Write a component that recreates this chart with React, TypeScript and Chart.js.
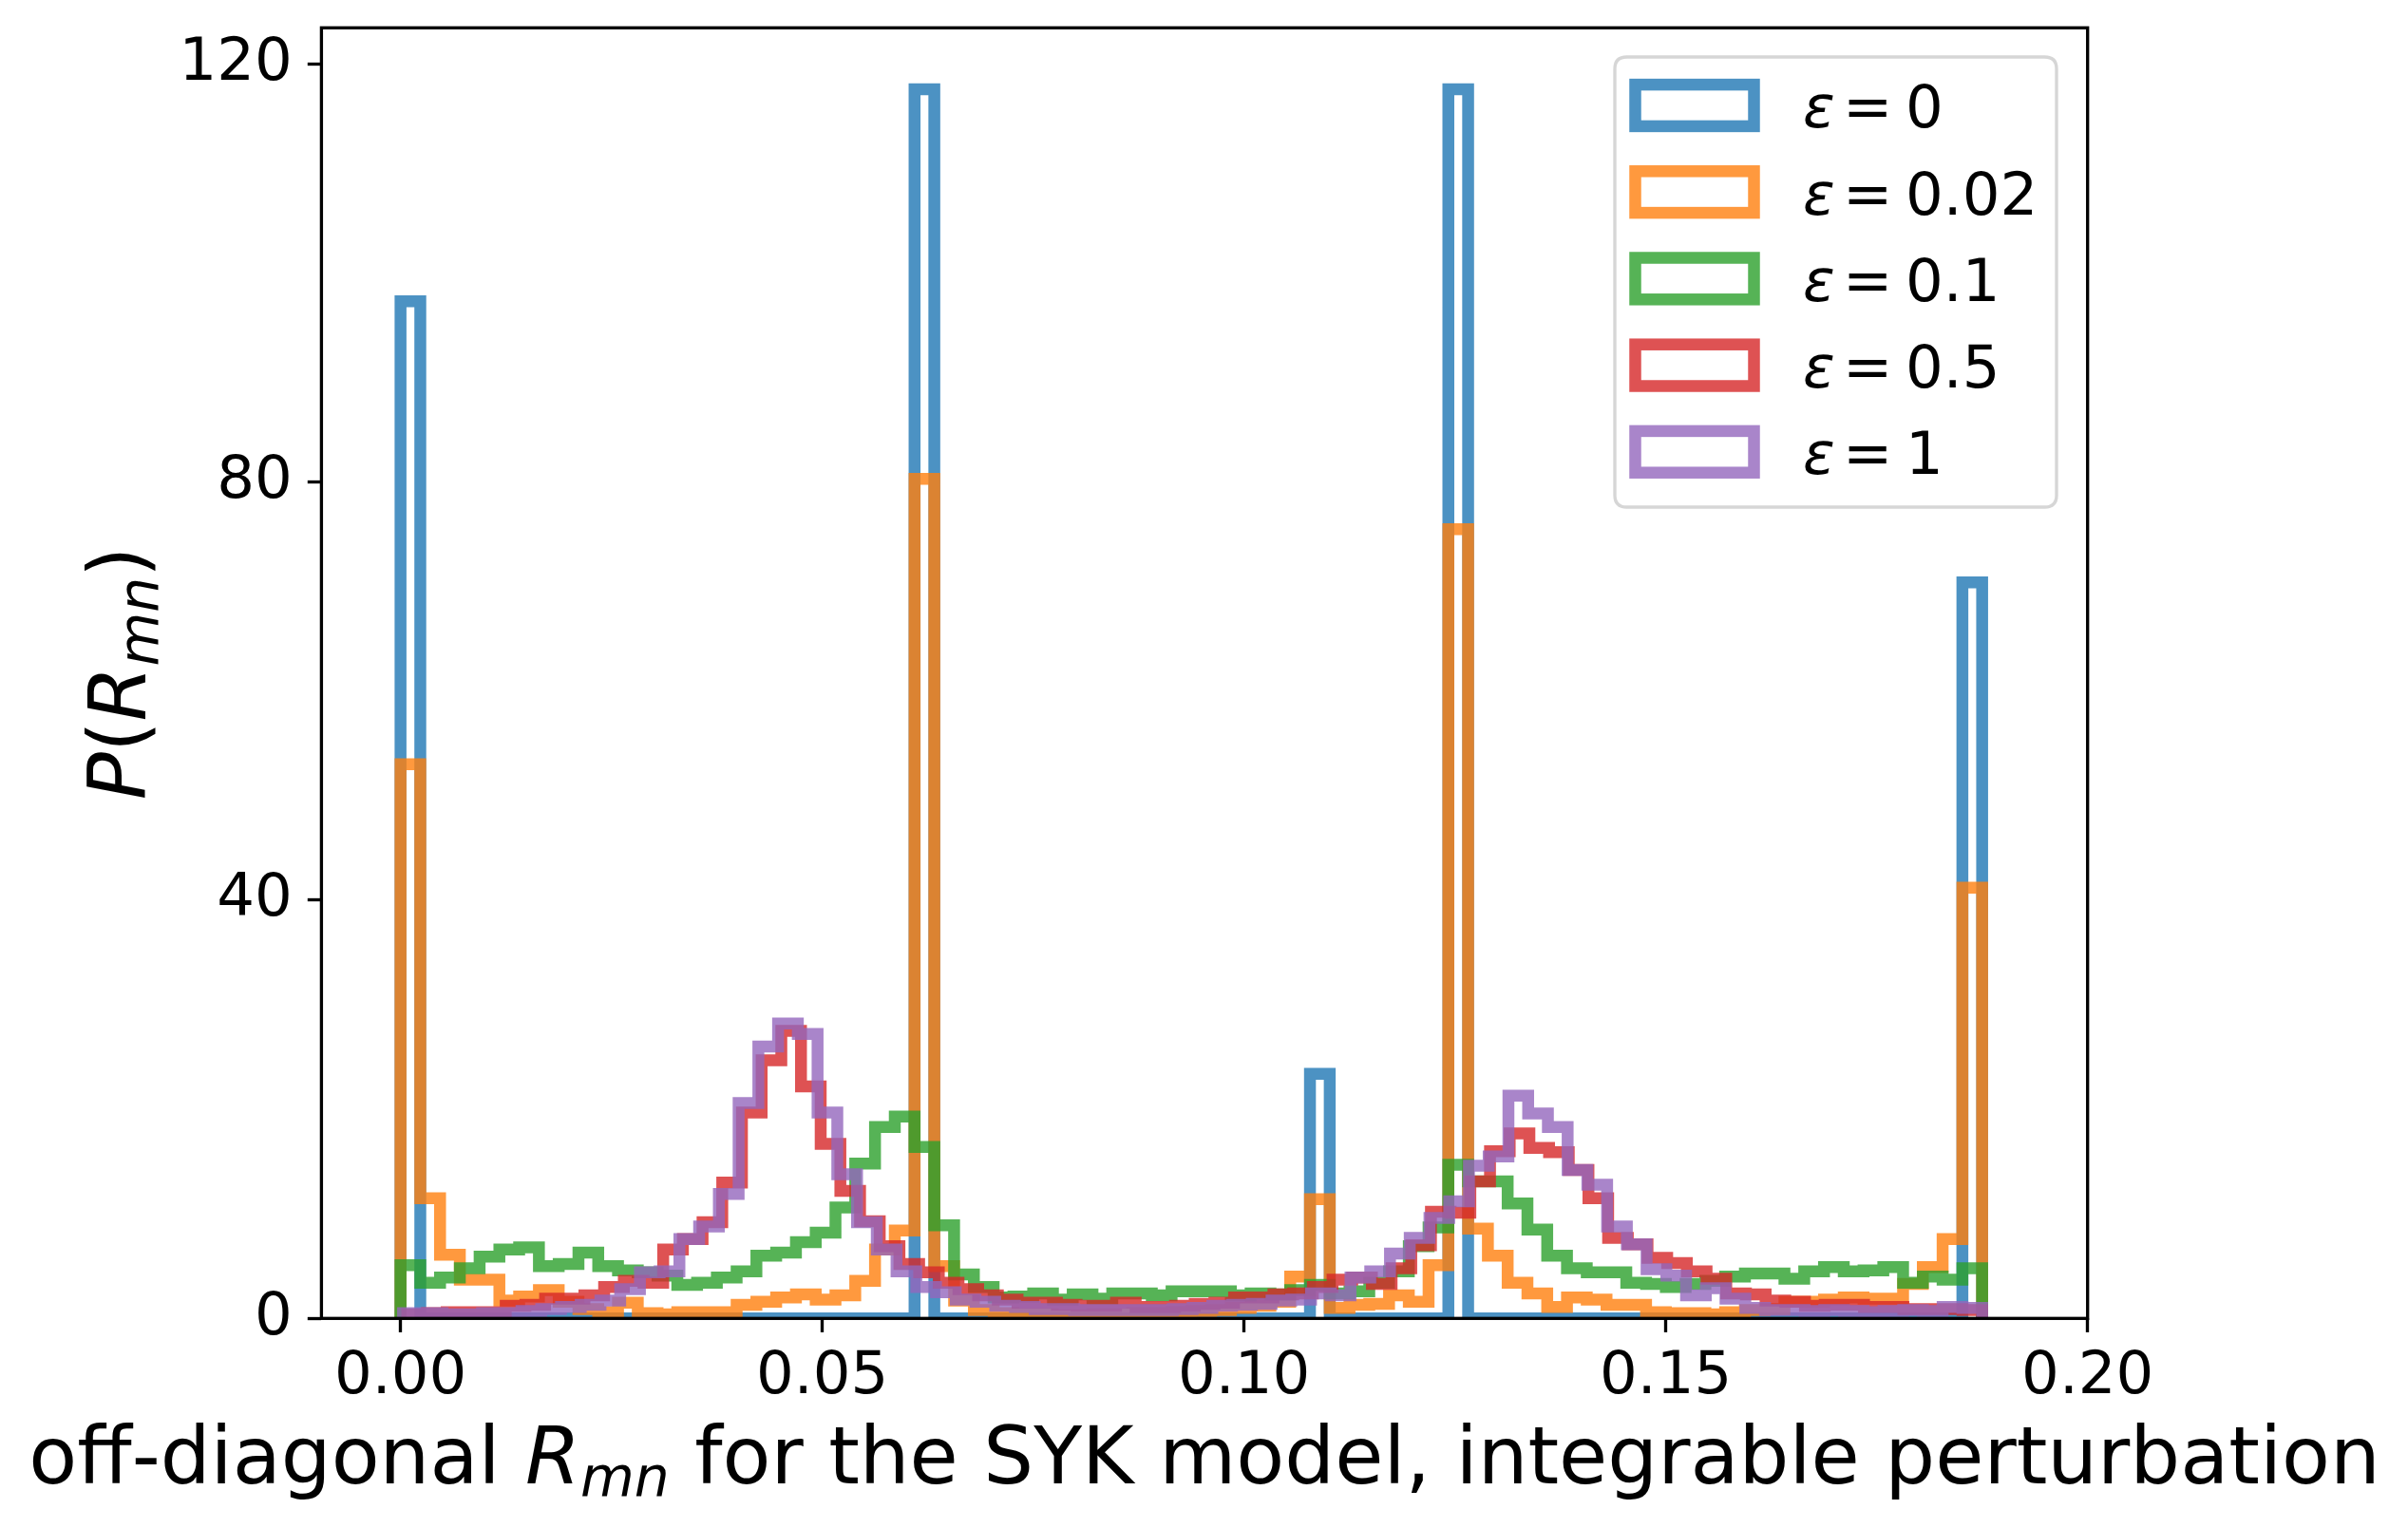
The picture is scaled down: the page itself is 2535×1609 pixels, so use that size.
import { useEffect, useRef } from 'react';
import { Chart, registerables } from 'chart.js';

Chart.register(...registerables);

// ---------------- data ----------------
const epsLabels = ['0', '0.02', '0.1', '0.5', '1'];
const binCount = 80;
const binStart = [0, 0, 0, 0.0008, 0.0003];
const binEnd = [0.1875, 0.1875, 0.1875, 0.1875, 0.1875];

const histEps0 = [
  97.3, 0, 0, 0, 0, 0, 0, 0, 0, 0,
  0, 0, 0, 0, 0, 0, 0, 0, 0, 0,
  0, 0, 0, 0, 0, 0, 117.57, 0, 0, 0,
  0, 0, 0, 0, 0, 0, 0, 0, 0, 0,
  0, 0, 0, 0, 0, 0, 23.4, 0, 0, 0,
  0, 0, 0, 117.57, 0, 0, 0, 0, 0, 0,
  0, 0, 0, 0, 0, 0, 0, 0, 0, 0,
  0, 0, 0, 0, 0, 0, 0, 0, 0, 70.4,
];
const histEps002 = [
  53.0, 11.5, 6.1, 3.7, 3.7, 1.7, 2.1, 2.7, 1.6, 0.9,
  0.6, 1.5, 0.5, 0.4, 0.6, 0.6, 0.6, 1.3, 1.6, 2.0,
  2.3, 1.8, 2.2, 3.6, 6.6, 8.4, 80.3, 5.0, 1.7, 0.8,
  0.5, 0.4, 0.4, 0.3, 0.3, 0.4, 0.4, 0.5, 0.5, 0.6,
  0.7, 0.8, 1.0, 1.2, 1.6, 4.0, 11.4, 1.0, 1.3, 1.4,
  2.2, 1.6, 5.1, 75.5, 8.6, 6.0, 3.4, 2.4, 1.1, 2.0,
  1.8, 1.3, 1.3, 0.6, 0.5, 0.5, 0.4, 0.6, 0.8, 0.9,
  1.6, 1.6, 1.8, 2.0, 1.9, 1.9, 3.3, 4.9, 7.6, 41.2,
];
const histEps01 = [
  5.1, 3.4, 3.9, 4.8, 5.9, 6.6, 6.8, 5.0, 5.2, 6.3,
  5.0, 4.6, 4.4, 4.1, 3.2, 3.4, 3.9, 4.5, 6.0, 6.3,
  7.3, 8.2, 10.6, 14.8, 18.3, 19.3, 16.4, 8.9, 4.2, 3.0,
  2.0, 2.1, 2.4, 1.8, 2.3, 1.9, 2.4, 2.4, 2.2, 2.6,
  2.6, 2.6, 2.2, 2.4, 2.3, 2.7, 3.2, 2.4, 2.6, 3.4,
  4.5, 6.9, 8.7, 14.7, 13.1, 13.1, 11.0, 8.5, 6.0, 4.8,
  4.4, 4.4, 3.4, 3.3, 3.0, 3.3, 3.6, 4.0, 4.3, 4.3,
  3.8, 4.5, 4.9, 4.5, 4.6, 4.9, 3.4, 4.0, 3.7, 4.8,
];
const histEps05 = [
  0.4, 0.5, 0.6, 0.6, 0.6, 1.2, 1.3, 1.9, 1.9, 2.2,
  3.0, 3.6, 3.4, 6.6, 7.6, 9.2, 13.0, 19.7, 24.7, 27.5,
  22.2, 16.7, 12.2, 9.3, 6.9, 5.2, 4.4, 3.4, 2.8, 2.2,
  1.8, 1.5, 1.5, 1.3, 1.2, 1.2, 1.5, 1.1, 1.1, 1.2,
  1.4, 1.5, 2.0, 2.0, 2.3, 2.4, 3.0, 3.7, 3.9, 3.3,
  4.8, 7.0, 10.2, 10.1, 13.1, 16.0, 17.7, 16.3, 15.9, 14.2,
  11.5, 7.7, 7.1, 5.8, 5.3, 4.5, 3.8, 2.4, 2.3, 1.7,
  1.6, 1.2, 1.3, 1.3, 1.1, 1.1, 0.9, 0.9, 0.9, 0.8,
];
const histEps1 = [
  0.5, 0.5, 0.4, 0.4, 0.5, 0.5, 0.7, 0.9, 1.1, 1.3,
  1.7, 2.8, 4.4, 4.5, 7.6, 8.8, 11.9, 20.6, 26.0, 28.2,
  27.2, 19.7, 13.8, 9.2, 6.6, 4.5, 3.0, 2.5, 1.8, 1.6,
  1.2, 1.1, 0.9, 0.9, 0.8, 0.8, 0.8, 0.8, 0.8, 0.9,
  1.0, 1.2, 1.3, 1.4, 1.7, 1.8, 2.4, 2.2, 3.9, 4.5,
  6.2, 7.7, 9.6, 11.2, 14.6, 15.5, 21.3, 19.6, 18.3, 14.2,
  12.8, 8.8, 7.1, 4.7, 4.1, 2.2, 2.9, 1.9, 1.0, 0.8,
  0.8, 0.7, 0.8, 0.7, 0.6, 0.7, 0.8, 0.7, 1.1, 1.0,
];
const allHists = [histEps0, histEps002, histEps01, histEps05, histEps1];

const xTicks = [0, 0.05, 0.1, 0.15, 0.2];
const yTicks = [0, 40, 80, 120];
const xMin = -0.009375;
const xMax = 0.2;
const yMin = 0;
const yMax = 123.45;

// ---------------- styles ----------------
const seriesColors = [
  'rgba(31,119,180,0.8)',
  'rgba(255,127,14,0.8)',
  'rgba(44,160,44,0.8)',
  'rgba(214,39,40,0.8)',
  'rgba(148,103,189,0.8)',
];
const FONT = '"DejaVu Sans", "Liberation Sans", sans-serif';
const LINE_W = 12.5;
const SPINE_W = 3.33;
const TICK_FS = 62.5;
const LABEL_FS = 83.3;

function stepPoints(values: number[], start: number, end: number) {
  const w = (end - start) / binCount;
  const pts: { x: number; y: number }[] = [{ x: start, y: 0 }];
  values.forEach((v, i) => pts.push({ x: start + i * w, y: v }));
  pts.push({ x: end, y: values[values.length - 1] });
  pts.push({ x: end, y: 0 });
  return pts;
}

type Part = { t: string; italic?: boolean; scale?: number; dy?: number };

function drawParts(ctx: CanvasRenderingContext2D, parts: Part[], size: number, cx: number) {
  const widths = parts.map((p) => {
    ctx.font = `${p.italic ? 'italic ' : ''}${size * (p.scale || 1)}px ${FONT}`;
    return ctx.measureText(p.t).width;
  });
  const total = widths.reduce((a, b) => a + b, 0);
  let x = cx - total / 2;
  parts.forEach((p, i) => {
    ctx.font = `${p.italic ? 'italic ' : ''}${size * (p.scale || 1)}px ${FONT}`;
    ctx.fillText(p.t, x, p.dy || 0);
    x += widths[i];
  });
}

const decorPlugin = {
  id: 'decor',
  afterDatasetsDraw(chart: any) {
    const { ctx, chartArea: a } = chart;
    ctx.save();
    // spines
    ctx.strokeStyle = '#000';
    ctx.lineWidth = SPINE_W;
    ctx.lineJoin = 'miter';
    ctx.strokeRect(a.left, a.top, a.right - a.left, a.bottom - a.top);

    // legend
    const lx = a.right - 32.7;
    const lw = 465;
    const left = lx - lw;
    const top = a.top + 30.7;
    const lh = 474;
    const r = 12.5;
    ctx.beginPath();
    ctx.moveTo(left + r, top);
    ctx.lineTo(left + lw - r, top);
    ctx.quadraticCurveTo(left + lw, top, left + lw, top + r);
    ctx.lineTo(left + lw, top + lh - r);
    ctx.quadraticCurveTo(left + lw, top + lh, left + lw - r, top + lh);
    ctx.lineTo(left + r, top + lh);
    ctx.quadraticCurveTo(left, top + lh, left, top + lh - r);
    ctx.lineTo(left, top + r);
    ctx.quadraticCurveTo(left, top, left + r, top);
    ctx.closePath();
    ctx.fillStyle = 'rgba(255,255,255,0.8)';
    ctx.fill();
    ctx.strokeStyle = 'rgba(204,204,204,0.8)';
    ctx.lineWidth = SPINE_W;
    ctx.stroke();

    epsLabels.forEach((lab, i) => {
      const cy = top + 51 + 91.2 * i;
      ctx.strokeStyle = seriesColors[i];
      ctx.lineWidth = LINE_W;
      ctx.lineJoin = 'miter';
      ctx.strokeRect(left + 21.5, cy - 21.9, 125, 43.8);
      ctx.fillStyle = '#000';
      ctx.textBaseline = 'alphabetic';
      ctx.textAlign = 'left';
      const tx = left + 198;
      const by = cy + 23.3;
      ctx.font = `italic ${TICK_FS}px ${FONT}`;
      ctx.fillText('\u03b5', tx, by);
      ctx.font = `${TICK_FS}px ${FONT}`;
      ctx.fillText('=', tx + 42, by);
      ctx.fillText(lab, tx + 108, by);
    });

    // x axis title
    ctx.fillStyle = '#000';
    ctx.textAlign = 'left';
    ctx.textBaseline = 'alphabetic';
    ctx.save();
    ctx.translate(0, 1562);
    drawParts(
      ctx,
      [
        { t: 'off-diagonal ' },
        { t: 'R', italic: true },
        { t: 'mn', italic: true, scale: 0.7, dy: 13 },
        { t: ' for the SYK model, integrable perturbation' },
      ],
      LABEL_FS,
      (a.left + a.right) / 2
    );
    ctx.restore();

    // y axis title
    ctx.save();
    ctx.translate(153, (a.top + a.bottom) / 2);
    ctx.rotate(-Math.PI / 2);
    drawParts(
      ctx,
      [
        { t: 'P', italic: true },
        { t: '(' },
        { t: 'R', italic: true },
        { t: 'mn', italic: true, scale: 0.7, dy: 13 },
        { t: ')' },
      ],
      LABEL_FS,
      0
    );
    ctx.restore();
    ctx.restore();
  },
};

export default function App() {
  const ref = useRef<HTMLCanvasElement | null>(null);
  useEffect(() => {
    if (!ref.current) return;
    const datasets = allHists.map((h, i) => ({
      label: 'eps=' + epsLabels[i],
      data: stepPoints(h, binStart[i], binEnd[i]),
      borderColor: seriesColors[i],
      backgroundColor: 'transparent',
      borderWidth: LINE_W,
      stepped: true as const,
      fill: false,
      pointRadius: 0,
      tension: 0,
      clip: 0,
      order: allHists.length - 1 - i,
      borderJoinStyle: 'miter' as const,
      borderCapStyle: 'butt' as const,
    }));
    const chart = new Chart(ref.current, {
      type: 'line',
      data: { datasets },
      plugins: [decorPlugin],
      options: {
        animation: false,
        responsive: true,
        maintainAspectRatio: false,
        devicePixelRatio: 1,
        layout: { padding: { left: 0, top: 29.3, right: 337.3, bottom: 0 } },
        plugins: { legend: { display: false }, tooltip: { enabled: false } },
        scales: {
          x: {
            type: 'linear',
            min: xMin,
            max: xMax,
            afterBuildTicks: (s: any) => {
              s.ticks = xTicks.map((v) => ({ value: v }));
            },
            afterFit: (s: any) => {
              s.height = 1609 - 1388.3;
              s.paddingLeft = 0;
              s.paddingRight = 0;
            },
            ticks: {
              callback: (v: any) => Number(v).toFixed(2),
              font: { family: FONT, size: TICK_FS },
              color: '#000',
              padding: 10,
              maxRotation: 0,
              autoSkip: false,
            },
            grid: {
              display: true,
              drawOnChartArea: false,
              drawTicks: true,
              tickLength: 14.6,
              tickWidth: SPINE_W,
              tickColor: '#000',
            },
            border: { display: false },
          },
          y: {
            type: 'linear',
            min: yMin,
            max: yMax,
            afterBuildTicks: (s: any) => {
              s.ticks = yTicks.map((v) => ({ value: v }));
            },
            afterFit: (s: any) => {
              s.width = 338.4;
              s.paddingTop = 0;
              s.paddingBottom = 0;
            },
            ticks: {
              callback: (v: any) => String(v),
              font: { family: FONT, size: TICK_FS },
              color: '#000',
              padding: 16,
              autoSkip: false,
            },
            grid: {
              display: true,
              drawOnChartArea: false,
              drawTicks: true,
              tickLength: 14.6,
              tickWidth: SPINE_W,
              tickColor: '#000',
            },
            border: { display: false },
          },
        },
      },
    });
    return () => chart.destroy();
  }, []);
  return (
    <div style={{ position: 'absolute', left: 0, top: 0, width: 2535, height: 1609, background: '#fff' }}>
      <canvas ref={ref} />
    </div>
  );
}
